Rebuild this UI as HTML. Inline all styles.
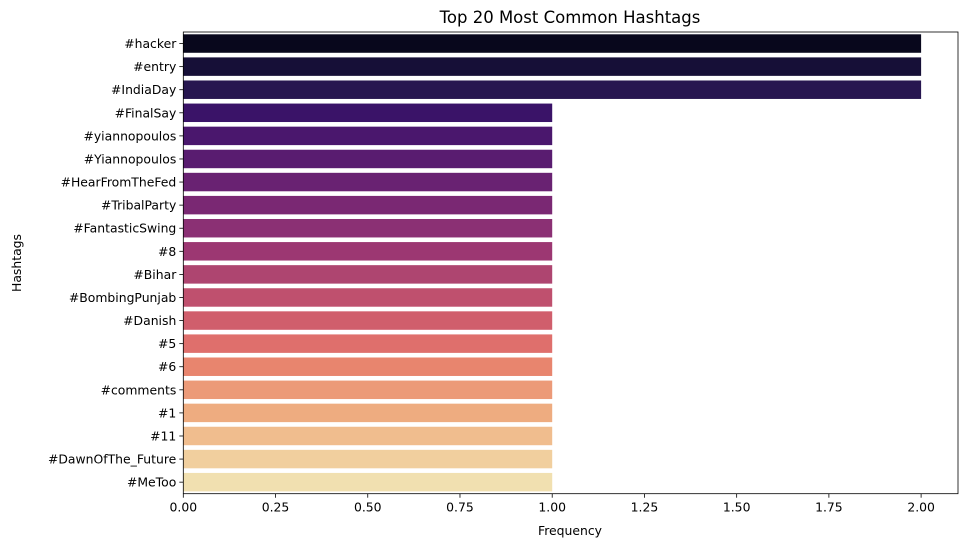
<!DOCTYPE html>
<html><head><meta charset="utf-8"><style>
body{margin:0;background:#fff;}
svg text{font-family:"DejaVu Sans","Liberation Sans",sans-serif;font-size:12.4px;fill:#000;}
</style></head><body>
<svg id="chart" width="968" height="547">
<text x="570" y="23" text-anchor="middle" style="font-size:16.5px">Top 20 Most Common Hashtags</text>
<text x="570" y="535" text-anchor="middle">Frequency</text>
<text x="21" y="263" text-anchor="middle" transform="rotate(-90 21 263)">Hashtags</text>
<g id="bars"></g><g id="axes"></g>
</svg>
<script>
const categories=["#hacker","#entry","#IndiaDay","#FinalSay","#yiannopoulos","#Yiannopoulos","#HearFromTheFed","#TribalParty","#FantasticSwing","#8","#Bihar","#BombingPunjab","#Danish","#5","#6","#comments","#1","#11","#DawnOfThe_Future","#MeToo"];
const values=[2,2,2,1,1,1,1,1,1,1,1,1,1,1,1,1,1,1,1,1];
const xTicks=[0,0.25,0.5,0.75,1,1.25,1.5,1.75,2];
const xTickLabels=["0.00","0.25","0.50","0.75","1.00","1.25","1.50","1.75","2.00"];
const colors=["#08071c","#160f37","#271650","#3a1368","#4a176d","#591c70","#692272","#7a2873","#8b3074","#9c3772","#ae4570","#bf506e","#d05e6c","#df6f6c","#e8856e","#ec9a78","#eeac80","#f0bd8e","#f1cf9e","#f1e0b0"];
const L=183.3,R=958,T=32,B=493.7,xmax=2.1;
const NS="http://www.w3.org/2000/svg";
const xs=v=>L+v/xmax*(R-L);
const band=(B-T)/categories.length;
const ys=i=>T+i*band;
const bars=document.getElementById('bars'),axes=document.getElementById('axes');
function mk(t,a,p){const e=document.createElementNS(NS,t);for(const k in a)e.setAttribute(k,a[k]);p.appendChild(e);return e;}
categories.forEach((c,i)=>{
 const r=mk('rect',{x:xs(0),y:ys(i)+band*0.1,width:xs(values[i])-xs(0),height:band*0.8,fill:colors[i]},bars);
 
 
 const yc=ys(i)+band/2;
 mk('line',{x1:L-4,x2:L,y1:yc,y2:yc,stroke:'#000','stroke-width':0.8},axes);
 const t=mk('text',{x:L-7,y:yc+4.5,'text-anchor':'end'},axes);t.textContent=c;
 
 
});
xTicks.forEach((v,i)=>{
 mk('line',{x1:xs(v),x2:xs(v),y1:B,y2:B+4,stroke:'#000','stroke-width':0.8},axes);
 const t=mk('text',{x:xs(v),y:B+18,'text-anchor':'middle'},axes);t.textContent=xTickLabels[i];
 
 
});
const f=mk('rect',{x:L,y:T,width:R-L,height:B-T,fill:'none',stroke:'#000','stroke-width':0.8},axes);


</script>
</body></html>
